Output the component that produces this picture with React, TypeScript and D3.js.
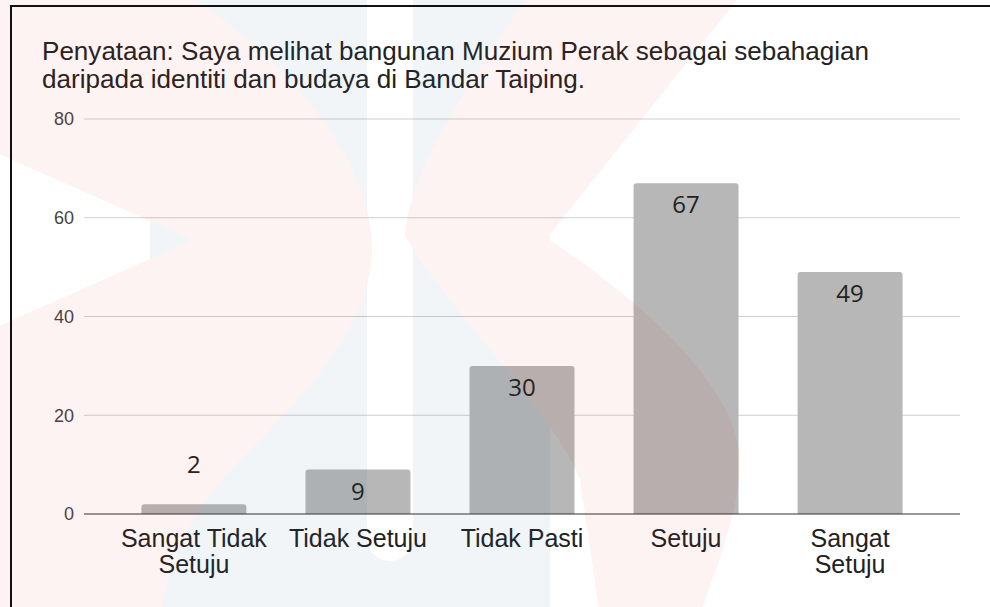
import React from "react";
import * as d3 from "d3";

// survey answers (Likert scale)
const categories = ["Sangat Tidak Setuju", "Tidak Setuju", "Tidak Pasti", "Setuju", "Sangat Setuju"];
const categoryLines = [["Sangat Tidak", "Setuju"], ["Tidak Setuju"], ["Tidak Pasti"], ["Setuju"], ["Sangat", "Setuju"]];
const counts = [2, 9, 30, 67, 49];
const yTicks = [0, 20, 40, 60, 80];
const titleLines = [
  "Penyataan: Saya melihat bangunan Muzium Perak sebagai sebahagian",
  "daripada identiti dan budaya di Bandar Taiping.",
];
const titleWidths = [827, 543];

const W = 990;
const H = 607;
const FONT = "'Liberation Sans', Arial, sans-serif";

// faint logo watermark over the scan
const PINK_LEFT =
  "M-10,-10 L195,-10 L195,0 C300,70 375,170 372,255 C368,330 300,400 240,460 C200,500 170,550 160,617 L-10,617 L-10,330 L193,240 L-10,150 Z";
const PINK_RIGHT =
  "M533,-10 L745,-10 L547,238 C640,300 745,390 740,470 C735,530 710,580 700,617 L600,617 L580,480 C560,420 440,300 405,235 C410,170 470,80 533,-10 Z";
const BLUE_U =
  "M150,-10 L550,-10 L550,617 L150,617 Z M367,-10 L367,538 A23,23 0 0 0 413,538 L413,-10 Z";

function topRounded(x: number, y: number, w: number, h: number, r: number) {
  const rr = Math.min(r, h, w / 2);
  const p = d3.path();
  p.moveTo(x, y + h);
  p.lineTo(x, y + rr);
  p.arcTo(x, y, x + rr, y, rr);
  p.lineTo(x + w - rr, y);
  p.arcTo(x + w, y, x + w, y + rr, rr);
  p.lineTo(x + w, y + h);
  p.closePath();
  return p.toString();
}

export default function App() {
  const x = d3.scaleBand<string>().domain(categories).range([84, 960]).paddingInner(0.36).paddingOuter(0.35);
  const y = d3.scaleLinear().domain([0, 80]).range([514, 119]);
  const bw = x.bandwidth();

  return (
    <svg
      width={W}
      height={H}
      viewBox={`0 0 ${W} ${H}`}
      style={{ position: "absolute", left: 0, top: 0, background: "#fff" }}
    >
      <defs>
        <mask id="noPink">
          <rect x={0} y={0} width={W} height={H} fill="#fff" />
          <path d={PINK_LEFT} fill="#000" />
          <path d={PINK_RIGHT} fill="#000" />
        </mask>
      </defs>

      {/* Title */}
      {titleLines.map((t, i) => (
        <text
          key={i}
          x={42}
          y={60 + i * 28}
          fontFamily={FONT}
          fontSize={25}
          fill="#222"
          textLength={titleWidths[i]}
          lengthAdjust="spacingAndGlyphs"
        >
          {t}
        </text>
      ))}

      {/* Gridlines + y labels */}
      {yTicks.map((t) => (
        <g key={t}>
          {t !== 0 && <line x1={84} x2={960} y1={y(t)} y2={y(t)} stroke="#cfcfcf" strokeWidth={1} />}
          <text
            x={74}
            y={y(t)}
            dy="0.36em"
            textAnchor="end"
            fontFamily={FONT}
            fontSize={18}
            fill="#444"
          >
            {t}
          </text>
        </g>
      ))}

      {/* Bars */}
      {categories.map((c, i) => (
        <path key={c} d={topRounded(x(c)!, y(counts[i]), bw, y(0) - y(counts[i]), 3)} fill="#b7b7b7" />
      ))}

      {/* Baseline */}
      <line x1={84} x2={960} y1={y(0)} y2={y(0)} stroke="#333" strokeWidth={1.2} />

      {/* Value labels */}
      {categories.map((c, i) => {
        const h = y(0) - y(counts[i]);
        const ly = h < 40 ? y(counts[i]) - 31 : y(counts[i]) + 30;
        return (
          <text
            key={c}
            x={x(c)! + bw / 2}
            y={ly}
            textAnchor="middle"
            fontFamily="'Open Sans', 'Noto Sans', sans-serif"
            fontSize={24}
            fill="#222"
          >
            {counts[i]}
          </text>
        );
      })}

      {/* Category labels */}
      {categories.map((c, i) => (
        <text key={c} textAnchor="middle" fontFamily={FONT} fontSize={25} fill="#222">
          {categoryLines[i].map((ln, j) => (
            <tspan key={j} x={x(c)! + bw / 2} y={547 + j * 26}>
              {ln}
            </tspan>
          ))}
        </text>
      ))}

      {/* Watermark overlay */}
      <g pointerEvents="none">
        <path d={BLUE_U} fill="rgb(40,100,150)" fillOpacity={0.065} fillRule="evenodd" mask="url(#noPink)" />
        <path d={PINK_LEFT} fill="rgb(230,40,40)" fillOpacity={0.055} />
        <path d={PINK_RIGHT} fill="rgb(230,40,40)" fillOpacity={0.055} />
      </g>

      {/* Scan border */}
      <path d="M11,607 L11,6 L990,6" fill="none" stroke="#111" strokeWidth={2} />
    </svg>
  );
}
